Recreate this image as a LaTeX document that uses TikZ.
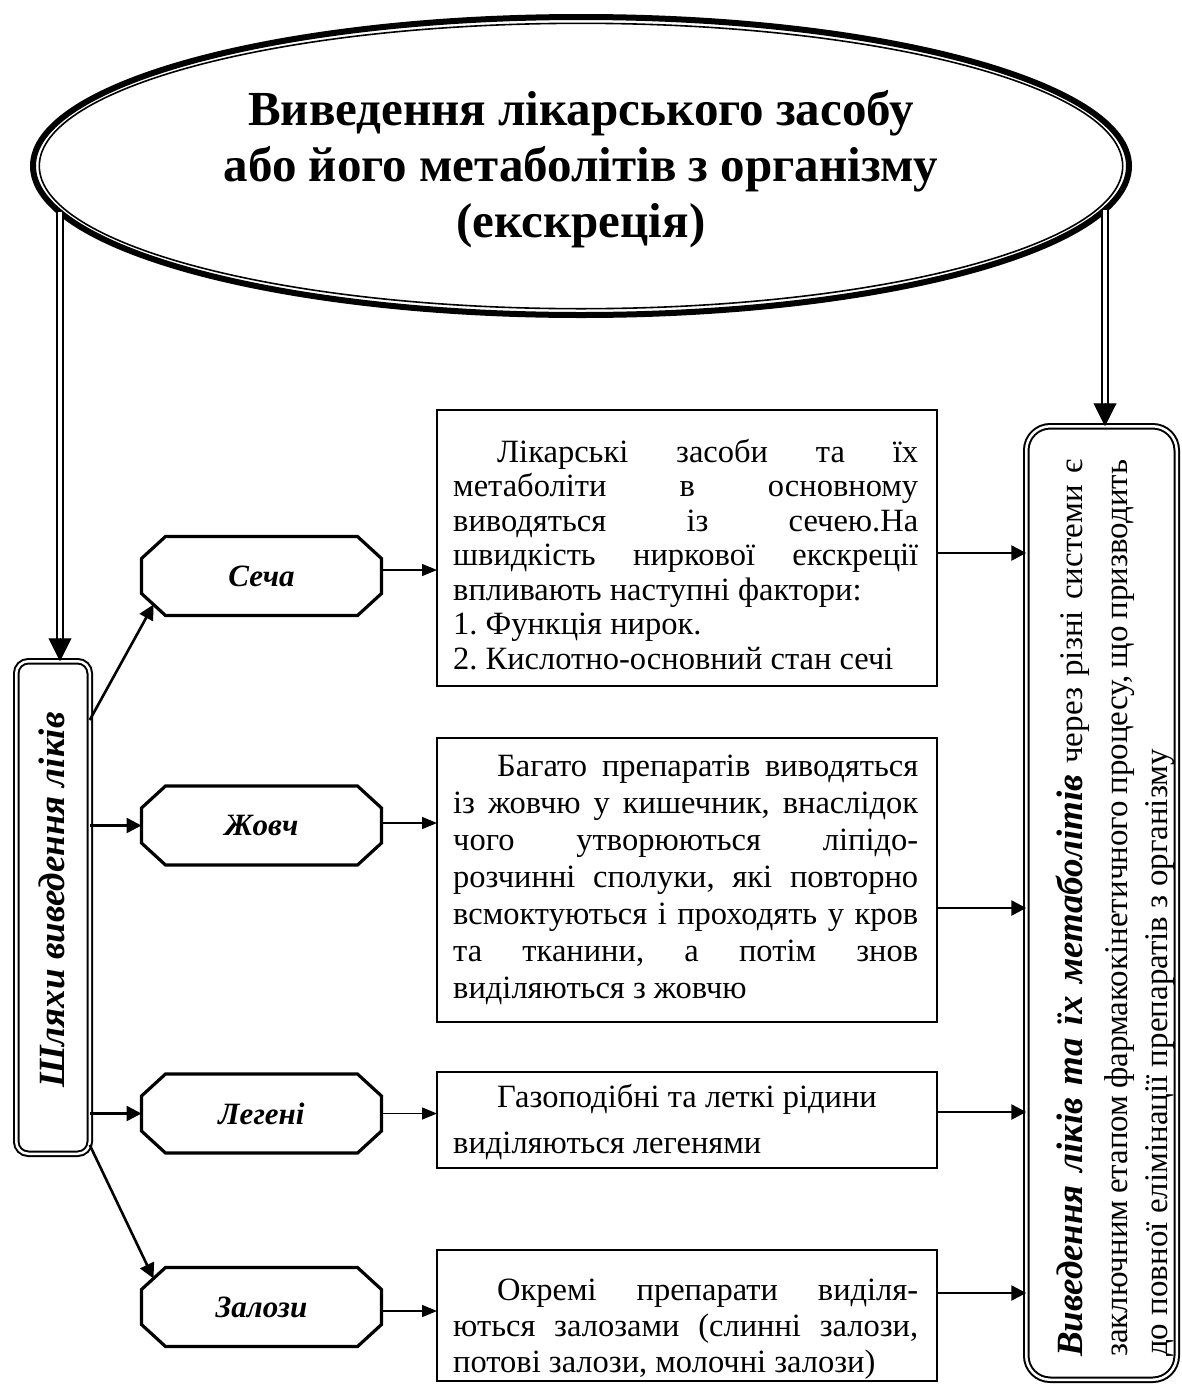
\documentclass[tikz,border=0pt]{standalone}
\usepackage{fontspec}
\setmainfont{Liberation Serif}
\usetikzlibrary{arrows.meta,calc}
\frenchspacing

% octagonal label box: name, centre, text
\newcommand\octbox[3]{%
  \node[octnode] (#1) at (#2) {#3};
  \draw[octline] ($(#1.north west)+(24,0)$) -- ($(#1.north east)+(-24,0)$)
    -- ($(#1.north east)+(0,22)$) -- ($(#1.south east)+(0,-22)$)
    -- ($(#1.south east)+(-24,0)$) -- ($(#1.south west)+(24,0)$)
    -- ($(#1.south west)+(0,-22)$) -- ($(#1.north west)+(0,22)$) -- cycle;}

\begin{document}
\begin{tikzpicture}[x=1pt,y=-1pt,
  octnode/.style={rectangle, minimum width=240pt, minimum height=79pt, inner sep=0pt, outer sep=0pt,
    font=\fontsize{31}{36}\selectfont\bfseries\itshape},
  octline/.style={line width=3.2pt, line join=miter},
  tbox/.style={draw, line width=1.6pt, inner sep=0pt, outer sep=0pt},
  tbtext/.style={inner sep=0pt, anchor=base west},
  dbl/.style={double, line width=2.2pt, double distance=3.2pt},
  dbltip/.style={line width=1pt, -{Triangle[length=23pt,width=23pt]}},
  linkarrow/.style={line width=2.6pt, -{Triangle[length=15pt,width=15pt]}},
  thinarrow/.style={line width=1.5pt, -{Triangle[length=15pt,width=12pt]}},
  dblbox/.style={draw, double, line width=2pt, double distance=2.5pt, inner sep=0pt, outer sep=0pt}
]
\fill[white] (0,0) rectangle (1182,1385);
\useasboundingbox (0,0) rectangle (1182,1385);

% title ellipse with thick-thin border
\coordinate (ectr) at (581,166);
\draw[line width=6pt] (ectr) ellipse [x radius=548, y radius=149];
\draw[line width=1.6pt] (ectr) ellipse [x radius=541.7, y radius=142.7];
\node[inner sep=0pt, anchor=base] (title) at (581,125) {\parbox[t]{1000pt}{\centering
  \fontsize{49}{56}\selectfont\bfseries
  Виведення лікарського засобу\\
  або його метаболітів з організму\\
  (екскреція)}};
\coordinate (eL) at (60,212);
\coordinate (eR) at (1105,210);

% side boxes
\node[dblbox, rounded corners=12pt, minimum width=73.5pt, minimum height=492.5pt] (lbox) at (53,907.5) {};
\node[rotate=90, inner sep=0pt, anchor=base, font=\fontsize{37}{40}\selectfont\bfseries\itshape]
  (ltext) at (64,900) {Шляхи виведення ліків};

\node[dblbox, rounded corners=24pt, minimum width=150.5pt, minimum height=953.5pt] (rbox) at (1101.5,903) {};
\node[rotate=90, inner sep=0pt, anchor=base west] (rtext) at (1082,1357) {\parbox[t]{900pt}{%
  \fontsize{33}{40}\selectfont
  \makebox[897pt][s]{{\fontsize{37}{40}\selectfont\bfseries\itshape Виведення ліків та їх метаболітів} через різні системи є}\\[5pt]
  \makebox[897pt][s]{заключним етапом фармакокінетичного процесу, що призводить}\\
  до повної елімінації препаратів з організму}};

% routes
\octbox{secha}{261.5,576}{Сеча}
\octbox{zhovch}{261.5,825.5}{Жовч}
\octbox{legeni}{261.5,1113.5}{Легені}
\octbox{zalozy}{261.5,1307}{Залози}

% description boxes
\node[tbox, minimum width=500pt, minimum height=276pt] (box1) at (687,548) {};
\node[tbtext] (text1) at (453,462) {\parbox[t]{467pt}{\fontsize{32.5}{34.5}\selectfont
  \hspace*{44pt}\makebox[421pt][s]{Лікарські засоби та їх}\\
  \makebox[465pt][s]{метаболіти в основному}\\
  \makebox[465pt][s]{виводяться із сечею.На}\\
  \makebox[465pt][s]{швидкість ниркової екскреції}\\
  впливають наступні фактори:\\
  1. Функція нирок.\\
  2. Кислотно-основний стан сечі}};

\node[tbox, minimum width=500pt, minimum height=284pt] (box2) at (687,880) {};
\node[tbtext] (text2) at (453,776) {\parbox[t]{467pt}{\fontsize{32.5}{37}\selectfont
  \hspace*{44pt}\makebox[421pt][s]{Багато препаратів виводяться}\\
  \makebox[465pt][s]{із жовчю у кишечник, внаслідок}\\
  \makebox[465pt][s]{чого утворюються ліпідо-}\\
  \makebox[465pt][s]{розчинні сполуки, які повторно}\\
  \makebox[465pt][s]{всмоктуються і проходять у кров}\\
  \makebox[465pt][s]{та тканини, а потім знов}\\
  виділяються з жовчю}};

\node[tbox, minimum width=500pt, minimum height=96pt] (box3) at (687,1120) {};
\node[tbtext] (text3) at (453,1107) {\parbox[t]{467pt}{\fontsize{32.5}{46}\selectfont
  \hspace*{44pt}Газоподібні та леткі рідини\\
  виділяються легенями}};

\node[tbox, minimum width=500pt, minimum height=131pt] (box4) at (687,1315.5) {};
\node[tbtext] (text4) at (453,1300) {\parbox[t]{467pt}{\fontsize{32.5}{36}\selectfont
  \hspace*{44pt}\makebox[421pt][s]{Окремі препарати виділя-}\\
  \makebox[465pt][s]{ються залозами (слинні залози,}\\
  потові залози, молочні залози)}};

% double arrows from the title
\draw[dbl, shorten >=20pt] (eL) -- (eL |- lbox.north);
\draw[dbltip] ($(eL |- lbox.north)+(0,-23)$) -- (eL |- lbox.north);
\draw[dbl, shorten >=20pt] (eR) -- (eR |- rbox.north);
\draw[dbltip] ($(eR |- rbox.north)+(0,-23)$) -- (eR |- rbox.north);

% from the routes box to each route
\draw[linkarrow] ([yshift=-58.75pt]lbox.north east) -- ($(secha.south west)+(12,-11)$);
\draw[linkarrow] (zhovch.west -| lbox.east) -- (zhovch.west);
\draw[linkarrow] (legeni.west -| lbox.east) -- (legeni.west);
\draw[linkarrow] ([yshift=8.75pt]lbox.south east) -- ($(zalozy.north west)+(12,11)$);

% route to its description
\draw[thinarrow] ($(secha.east)+(0,-6)$) -- ($(secha.east -| box1.west)+(0,-6)$);
\draw[thinarrow] ($(zhovch.east)+(0,-2.5)$) -- ($(zhovch.east -| box2.west)+(0,-2.5)$);
\draw[thinarrow] (legeni.east) -- (legeni.east -| box3.west);
\draw[thinarrow] ($(zalozy.east)+(0,4)$) -- ($(zalozy.east -| box4.west)+(0,4)$);

% description to the summary box
\draw[linkarrow] ($(box1.east)+(0,5)$) -- ($(box1.east -| rbox.west)+(0,5)$);
\draw[linkarrow] ($(box2.east)+(0,28)$) -- ($(box2.east -| rbox.west)+(0,28)$);
\draw[linkarrow] ($(box3.east)+(0,-8)$) -- ($(box3.east -| rbox.west)+(0,-8)$);
\draw[linkarrow] ($(box4.east)+(0,-22.5)$) -- ($(box4.east -| rbox.west)+(0,-22.5)$);
\end{tikzpicture}
\end{document}
